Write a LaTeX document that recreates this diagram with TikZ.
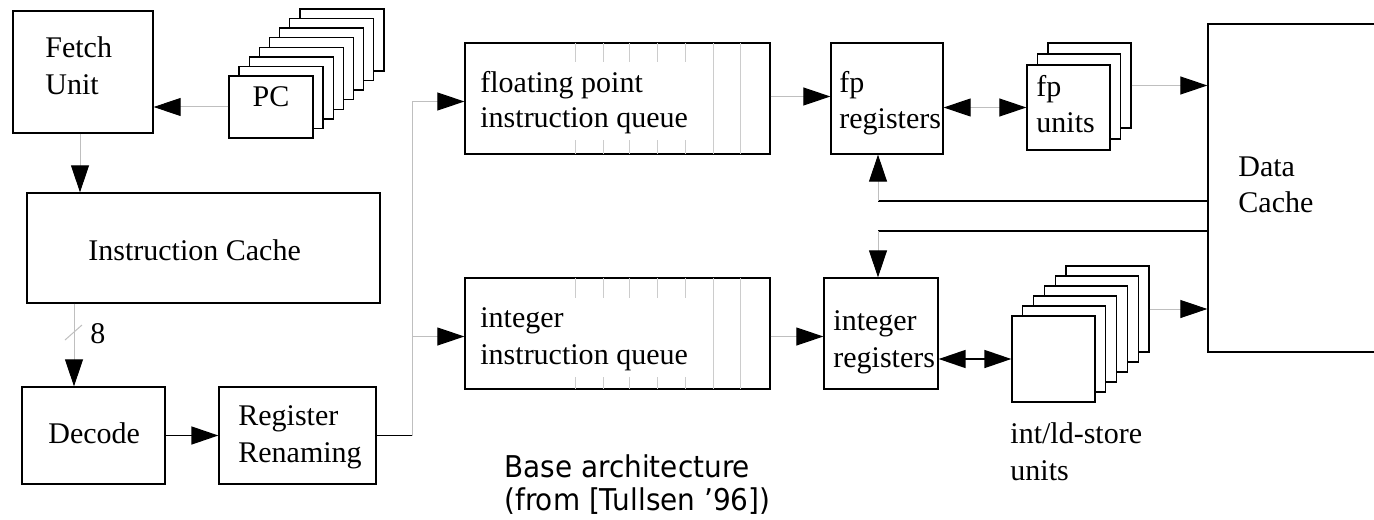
\documentclass[tikz,border=0pt]{standalone}
\usepackage{fontspec}
\setmainfont{Liberation Serif}
\newfontfamily\capfont[FakeStretch=0.93]{DejaVu Sans}
\usetikzlibrary{arrows.meta,fit,calc}
\begin{document}
\begin{tikzpicture}[x=0.5pt,y=-0.5pt,
  box/.style={draw=black, line width=0.65pt, inner sep=0pt, fill=white},
  lbl/.style={anchor=base west, inner sep=0pt, font=\fontsize{15pt}{18pt}\selectfont},
  captxt/.style={anchor=base west, inner sep=0pt, font=\capfont\fontsize{15pt}{17.5pt}\selectfont},
  tipb/.tip={Triangle[length=13.5pt,width=9pt,color=black]},
  gline/.style={draw=black!25, line width=0.5pt},
  bline/.style={draw=black, line width=0.8pt},
  ghead/.style={gline, -tipb},
  gdouble/.style={gline, tipb-tipb},
  bdouble/.style={bline, tipb-tipb},
  divider/.style={draw=black!20, line width=0.5pt}]
\useasboundingbox (0,0) rectangle (1374,519);
\clip (0,0) rectangle (1374,519);
\fill[white] (0,0) rectangle (1374,519);

% front-end boxes
\node[box, fit={(13,11) (153,133)}] (fetch) {};
\foreach \i in {7,6,...,1}{
  \node[box, fit={({229+\i*10.14},{76-\i*9.57}) ({313+\i*10.14},{138-\i*9.57})}] (pc\i) {};
}
\node[box, fit={(229,76) (313,138)}, font=\fontsize{15pt}{18pt}\selectfont] (pc) {PC};
\node[box, fit={(27,193) (380,303)}] (icache) {};
\node[box, fit={(22,387) (165,484)}] (decode) {};
\node[box, fit={(219,387) (376,484)}] (rename) {};

% queues and registers
\node[box, fit={(465,43) (770,154)}] (fpq) {};
\node[box, fit={(465,278) (770,389)}] (intq) {};
\node[box, fit={(831,43) (943,154)}] (fpr) {};
\node[box, fit={(824,278) (938,389)}] (intr) {};

% functional units
\foreach \i in {2,1,0}{
  \node[box, fit={({1027+\i*10.5},{65-\i*11}) ({1110+\i*10.5},{150-\i*11})}] (fpu\i) {};
}
\foreach \i in {5,4,...,0}{
  \node[box, fit={({1012+\i*10.8},{316-\i*10}) ({1095+\i*10.8},{402-\i*10})}] (intu\i) {};
}
\node[box, fit={(1208,24) (1400,352)}] (dcache) {};

% queue slot dividers
\foreach \x in {575,603,629,657,685}{
  \draw[divider] (\x,43) -- (\x,62);
  \draw[divider] (\x,140) -- (\x,154);
  \draw[divider] (\x,278) -- (\x,298);
  \draw[divider] (\x,377) -- (\x,389);
}
\foreach \x in {713,740}{
  \draw[divider] (\x,43) -- (\x,154);
  \draw[divider] (\x,278) -- (\x,389);
}

% labels
\node[lbl] (tFetch) at (45,58) {Fetch};
\node[lbl] (tUnit) at (45,95) {Unit};
\node[lbl] (tIC) at (88,260) {Instruction Cache};
\node[lbl] (tEight) at (90,343) {8};
\node[lbl] (tDec) at (48,443) {Decode};
\node[lbl] (tReg) at (238,425) {Register};
\node[lbl] (tRen) at (238,462) {Renaming};
\node[lbl] (tFpq1) at (480,92) {floating point};
\node[lbl] (tFpq2) at (480,127) {instruction queue};
\node[lbl] (tIq1) at (480,327) {integer};
\node[lbl] (tIq2) at (480,364) {instruction queue};
\node[lbl] (tFpr1) at (839,92) {fp};
\node[lbl] (tFpr2) at (839,128) {registers};
\node[lbl] (tIr1) at (833,330) {integer};
\node[lbl] (tIr2) at (833,367) {registers};
\node[lbl] (tFpu1) at (1036,97) {fp};
\node[lbl] (tFpu2) at (1036,133) {units};
\node[lbl] (tDc1) at (1238,176) {Data};
\node[lbl] (tDc2) at (1238,212) {Cache};
\node[lbl] (tIu1) at (1010,443) {int/ld-store};
\node[lbl] (tIu2) at (1010,480) {units};
\node[captxt] (cap1) at (504,477) {Base architecture};
\node[captxt] (cap2) at (504,510) {(from [Tullsen ’96])};

% helper coordinates
\coordinate (fx) at (80,0);
\coordinate (dx) at (74,0);
\coordinate (sx) at (412,0);
\coordinate (bx) at (878,0);
\coordinate (fb) at (0,201);
\coordinate (ib) at (0,231);
\coordinate (s1) at (65,340);
\coordinate (s2) at (82,325);

% connectors
\draw[ghead] (pc.west) -- (pc.west -| fetch.east);
\draw[ghead] (fetch.south -| fx) -- (icache.north -| fx);
\draw[ghead] (icache.south -| dx) -- (decode.north -| dx);
\draw[gline] (s1) -- (s2);
\draw[bline, -tipb] (decode.east) -- (rename.west |- decode.east);
\draw[bline] (rename.east) -- (rename.east -| sx);
\draw[gline] (rename.east -| sx) -- ($(sx |- fpq.west)+(0,3)$);
\draw[ghead] ($(sx |- fpq.west)+(0,3)$) -- ($(fpq.west)+(0,3)$);
\draw[ghead] ($(sx |- intq.west)+(0,3)$) -- ($(intq.west)+(0,3)$);
\draw[ghead] ($(fpq.east)+(0,-2)$) -- ($(fpr.west)+(0,-2)$);
\draw[ghead] ($(intq.east)+(0,3)$) -- ($(intr.west)+(0,3)$);
\draw[gdouble] (fpr.east |- fpu0.west) -- (fpu0.west);
\draw[bdouble] (intr.east |- intu0.west) -- (intu0.west);
\draw[ghead] (fpu2.east) -- (fpu2.east -| dcache.west);
\draw[ghead] (intu5.east) -- (intu5.east -| dcache.west);
\draw[bline] (dcache.west |- fb) -- (bx |- fb);
\draw[ghead] (bx |- fb) -- (bx |- fpr.south);
\draw[bline] (dcache.west |- ib) -- (bx |- ib);
\draw[ghead] (bx |- ib) -- (bx |- intr.north);
\end{tikzpicture}
\end{document}
